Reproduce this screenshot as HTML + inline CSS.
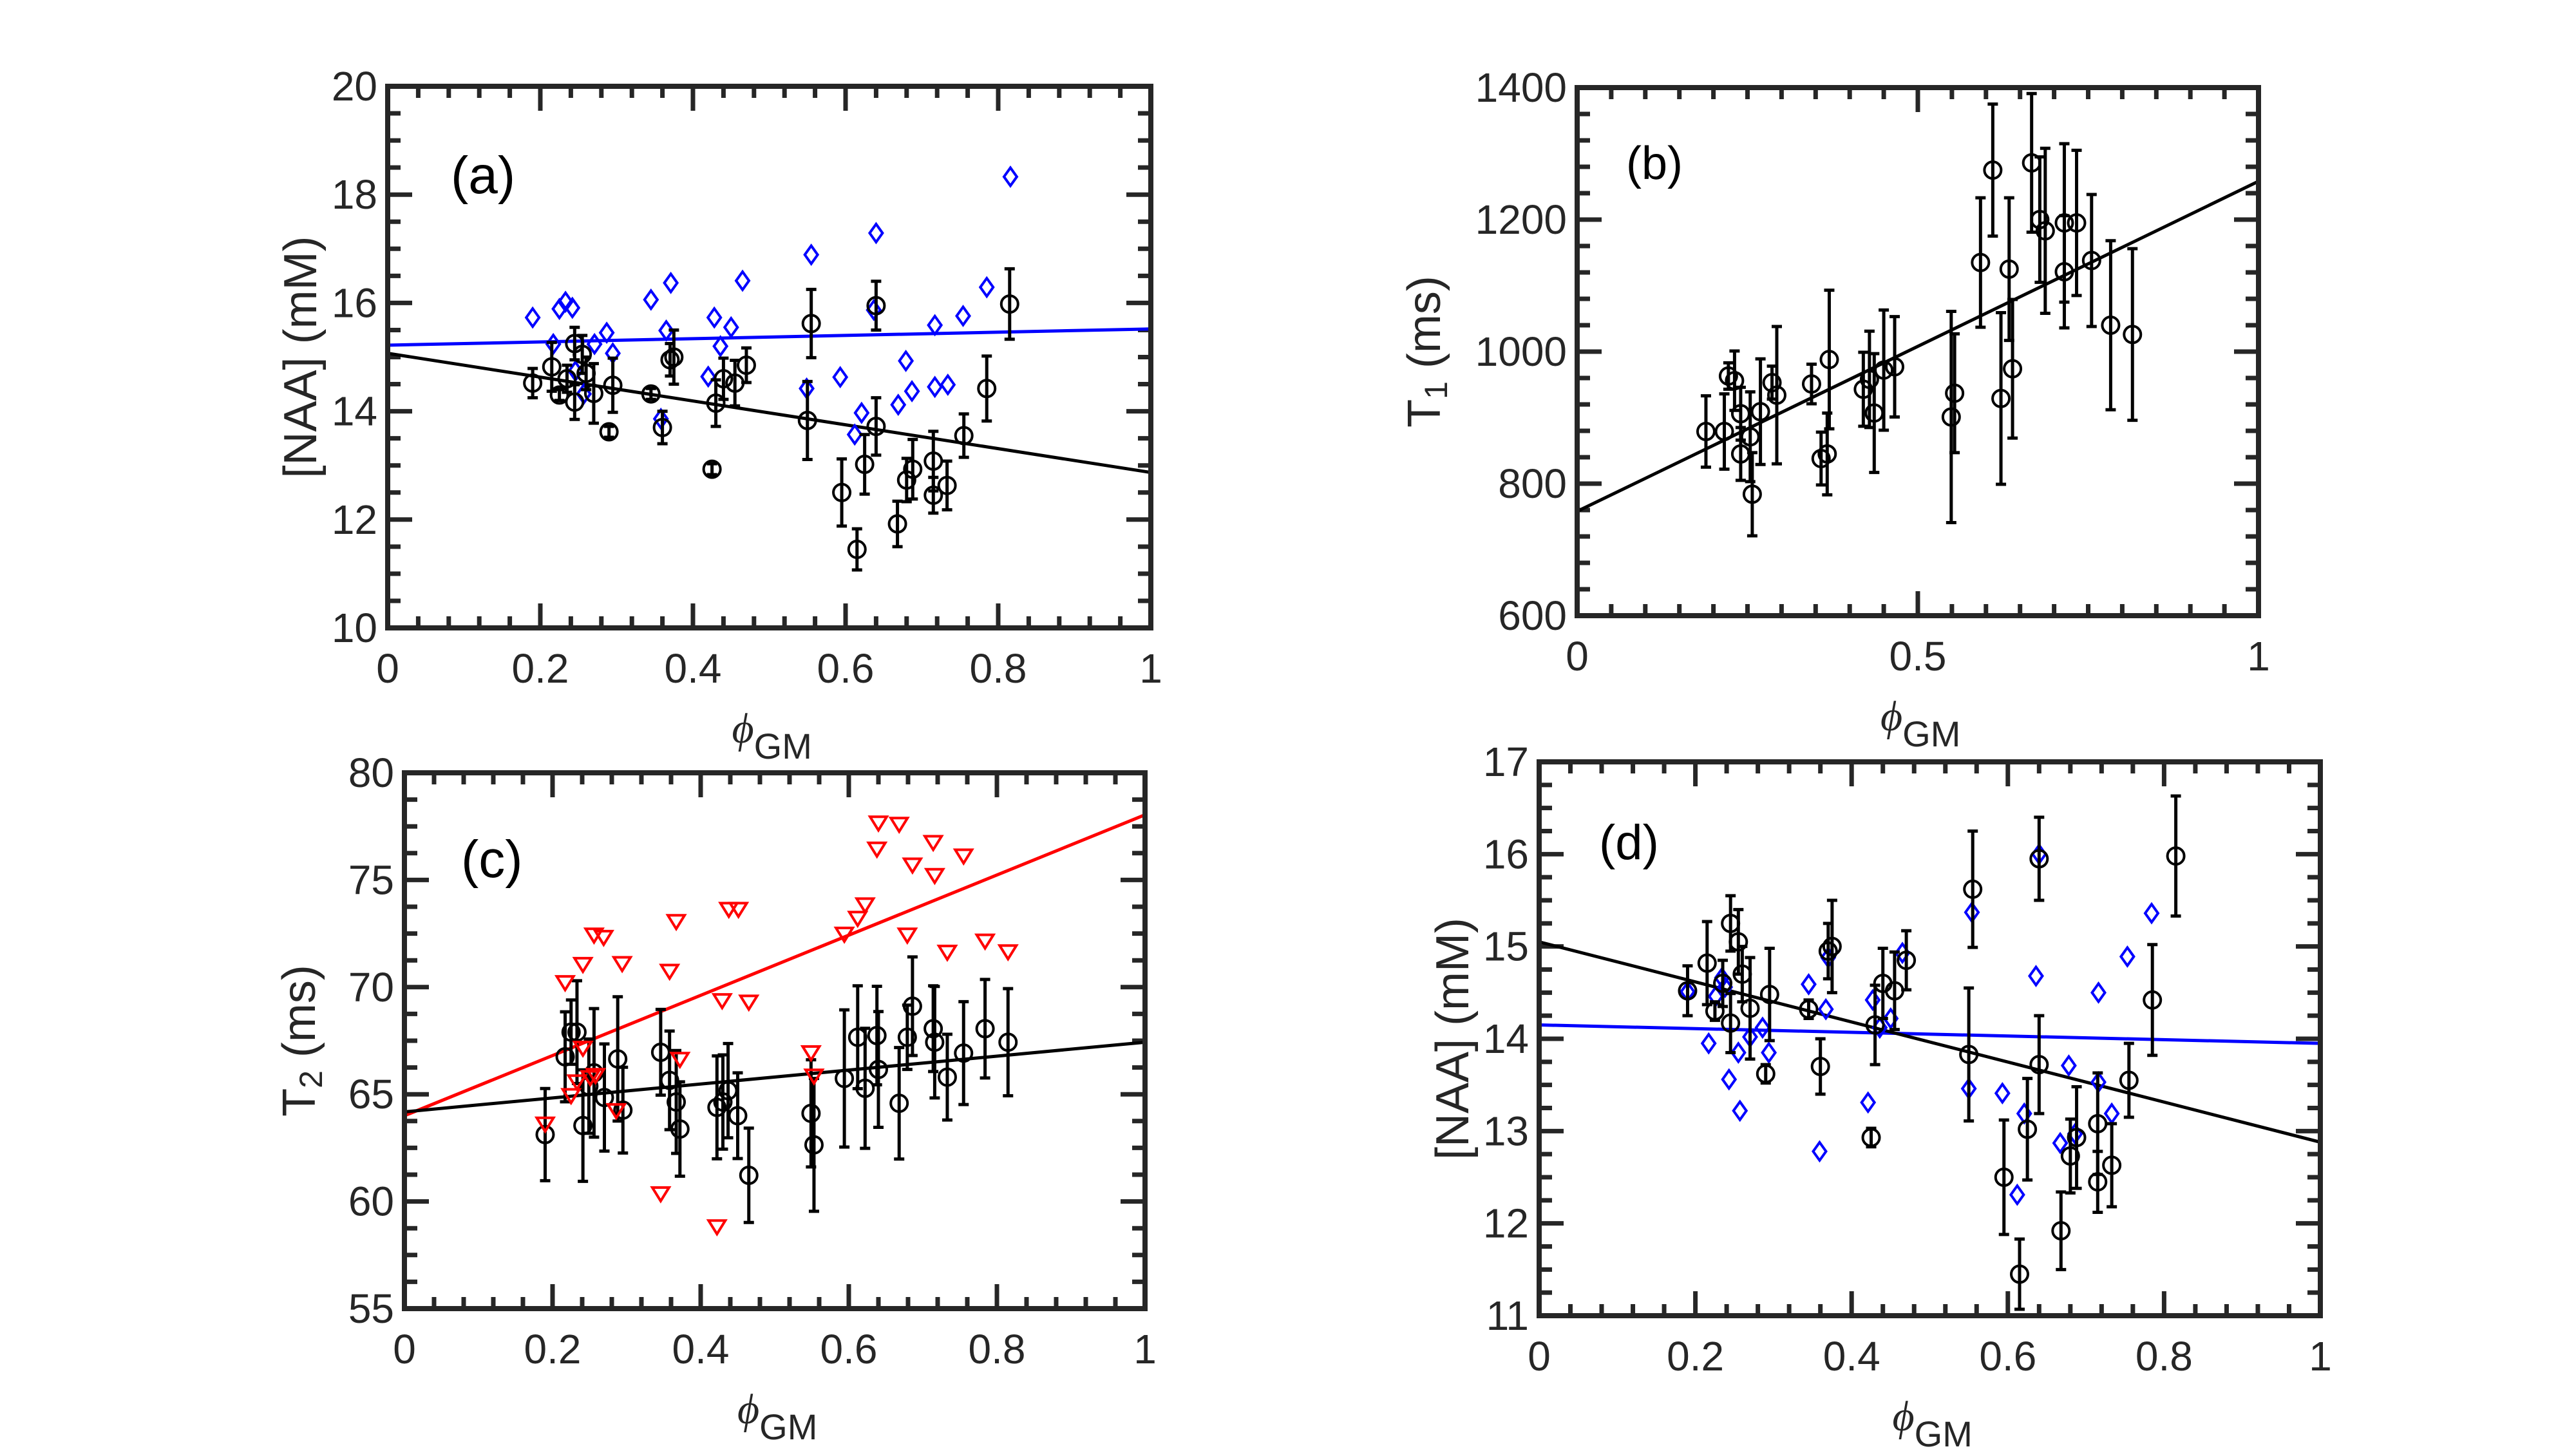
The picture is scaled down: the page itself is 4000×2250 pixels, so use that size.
<!DOCTYPE html>
<html><head><meta charset="utf-8"><style>
html,body{margin:0;padding:0;background:#fff;}
svg{display:block;}
text{font-family:"Liberation Sans",sans-serif;}
</style></head>
<body>
<svg id="fig" width="4000" height="2250" viewBox="0 0 4000 2250" xmlns="http://www.w3.org/2000/svg"></svg>
<script>
// ---- shared black data (NAA) ----
const naaX = [0.19,0.215,0.225,0.235,0.245,0.245,0.255,0.26,0.27,0.29,0.295,0.345,0.36,0.37,0.375,0.425,0.43,0.44,0.455,0.47,0.55,0.555,0.595,0.615,0.625,0.64,0.64,0.668,0.68,0.688,0.715,0.715,0.733,0.755,0.785,0.815];
const naaY = [14.52,14.82,14.3,14.6,15.25,14.17,15.05,14.7,14.33,13.62,14.48,14.32,13.7,14.95,15.0,12.93,14.15,14.6,14.52,14.85,13.83,15.62,12.5,11.45,13.02,13.72,15.95,11.92,12.73,12.93,13.08,12.45,12.63,13.55,14.42,15.98];
const naaErr = [0.27,0.45,0.1,0.25,0.3,0.32,0.35,0.3,0.55,0.1,0.5,0.1,0.3,0.3,0.5,0.1,0.43,0.38,0.42,0.32,0.72,0.63,0.62,0.38,0.55,0.53,0.45,0.42,0.4,0.55,0.55,0.33,0.45,0.4,0.6,0.65];
// ---- panel (a) blue diamonds ----
const aBlueX = [0.19,0.217,0.225,0.233,0.242,0.246,0.257,0.271,0.287,0.295,0.345,0.358,0.365,0.371,0.42,0.428,0.436,0.45,0.465,0.549,0.555,0.593,0.612,0.621,0.637,0.64,0.669,0.679,0.687,0.717,0.717,0.734,0.754,0.785,0.816];
const aBlueY = [15.73,15.24,15.89,16.02,15.91,14.74,14.32,15.24,15.45,15.07,16.06,13.86,15.49,16.37,14.64,15.73,15.2,15.55,16.41,14.42,16.89,14.63,13.57,13.97,15.87,17.29,14.12,14.93,14.37,15.59,14.45,14.49,15.76,16.29,18.33];
const aFitBlack = [15.07,12.87];
const aFitBlue = [15.22,15.52];
const aYTicks = [10,12,14,16,18,20];
const xTicks01 = [0,0.2,0.4,0.6,0.8,1];
// ---- panel (b) T1 ----
const bX = [0.189,0.216,0.222,0.231,0.24,0.24,0.254,0.257,0.269,0.286,0.293,0.344,0.358,0.367,0.37,0.42,0.429,0.436,0.45,0.466,0.549,0.554,0.592,0.61,0.622,0.634,0.639,0.667,0.679,0.687,0.715,0.715,0.733,0.755,0.783,0.815];
const bY = [879,879,963,956,906,845,871,784,909,953,934,951,838,845,988,943,958,907,972,977,901,937,1135,1275,929,1125,974,1286,1200,1183,1121,1195,1195,1138,1040,1026];
const bErr = [54,57,20,45,40,40,68,63,80,25,104,30,40,62,105,56,73,90,91,76,160,90,98,100,130,108,105,105,95,125,85,120,110,100,128,130];
const bFit = [758,1258];
const bYTicks = [600,800,1000,1200,1400];
const bXTicks = [0,0.5,1];
// ---- panel (c) T2 ----
const cX = [0.19,0.217,0.225,0.233,0.241,0.249,0.256,0.27,0.288,0.295,0.346,0.358,0.367,0.372,0.422,0.43,0.437,0.45,0.465,0.549,0.553,0.594,0.612,0.622,0.638,0.64,0.668,0.679,0.686,0.714,0.716,0.733,0.755,0.784,0.815];
const cY = [63.12,66.75,67.9,67.9,63.54,65.38,66.0,64.85,66.65,64.26,66.96,65.65,64.64,63.38,64.39,64.64,65.17,64.0,61.22,64.11,62.64,65.74,67.66,65.28,67.74,66.16,64.58,67.66,69.11,68.06,67.43,65.8,66.92,68.06,67.43];
const cErr = [2.15,2.1,1.5,2.4,2.6,2.2,3.0,2.5,2.9,2.0,2.0,2.3,2.4,2.2,2.4,2.2,2.2,2.0,2.2,2.5,3.1,3.2,2.4,2.8,2.3,2.7,2.6,1.5,2.3,2.0,2.6,2.0,2.4,2.3,2.5];
const cRedX = [0.19,0.217,0.225,0.233,0.241,0.241,0.251,0.258,0.256,0.269,0.286,0.294,0.346,0.358,0.367,0.372,0.422,0.429,0.438,0.451,0.465,0.549,0.553,0.594,0.612,0.622,0.638,0.64,0.668,0.679,0.686,0.714,0.716,0.733,0.755,0.784,0.815];
const cRedY = [63.63,70.23,64.96,65.6,71.08,67.17,65.8,65.9,72.45,72.34,64.26,71.12,60.38,70.76,73.08,66.65,58.84,69.39,73.65,73.65,69.32,66.96,65.87,72.49,73.23,73.86,76.46,77.68,77.62,72.45,75.72,76.77,75.23,71.65,76.14,72.17,71.67];
const cFitBlack = [64.18,67.43];
const cFitRed = [64.0,78.04];
const cYTicks = [55,60,65,70,75,80];
// ---- panel (d) blue diamonds ----
const dBlueX = [0.19,0.217,0.226,0.234,0.238,0.243,0.255,0.257,0.27,0.286,0.294,0.345,0.359,0.367,0.37,0.421,0.427,0.436,0.45,0.465,0.55,0.554,0.593,0.612,0.621,0.636,0.64,0.667,0.678,0.686,0.716,0.716,0.733,0.753,0.784];
const dBlueY = [14.51,13.95,14.46,14.66,14.56,13.56,13.85,13.22,14.02,14.12,13.85,14.59,12.78,14.32,14.88,13.31,14.42,14.12,14.22,14.93,13.46,15.37,13.41,12.31,13.19,14.68,16.0,12.87,13.71,12.97,14.5,13.53,13.19,14.89,15.36];
const dFitBlack = [15.05,12.88];
const dFitBlue = [14.15,13.95];
const dYTicks = [11,12,13,14,15,16,17];

const svg = document.getElementById('fig');
const NS = 'http://www.w3.org/2000/svg';
function mk(tag, attrs, parent){const e=document.createElementNS(NS,tag);for(const k in attrs)e.setAttribute(k,attrs[k]);(parent||svg).appendChild(e);return e;}

function panel(p){
  const g = mk('g',{});
  
  
  const sx = v => p.L + (v - p.x0)/(p.x1 - p.x0)*(p.R - p.L);
  const sy = v => p.B - (v - p.y0)/(p.y1 - p.y0)*(p.B - p.T);
  p.sx = sx; p.sy = sy;
  const tg = mk('g',{stroke:'#262626','stroke-width':7},g);
  
  
  for(let v=p.x0; v<=p.x1+1e-9; v+=p.xMinor){
    const isMaj = p.xTicks.some(t=>Math.abs(t-v)<1e-6);
    const len = isMaj?38:18, x=sx(v);
    mk('line',{x1:x,y1:p.B,x2:x,y2:p.B-len},tg);
    mk('line',{x1:x,y1:p.T,x2:x,y2:p.T+len},tg);
  }
  for(let v=p.y0; v<=p.y1+1e-9; v+=p.yMinor){
    const isMaj = p.yTicks.some(t=>Math.abs(t-v)<1e-6);
    const len = isMaj?38:20, y=sy(v);
    mk('line',{x1:p.L,y1:y,x2:p.L+len,y2:y},tg);
    mk('line',{x1:p.R,y1:y,x2:p.R-len,y2:y},tg);
  }
  p.xTicks.forEach(t=>{
    const e=mk('text',{x:sx(t),y:p.B+85,'text-anchor':'middle','font-size':64,fill:'#262626'},g);
    
    
    e.textContent = String(t);
  });
  p.yTicks.forEach(t=>{
    const e=mk('text',{x:p.L-16,y:sy(t)+22,'text-anchor':'end','font-size':64,fill:'#262626'},g);
    
    
    e.textContent = String(t);
  });
  p.fits.forEach(f=>{
    const l=mk('line',{x1:sx(p.x0),y1:sy(f.v[0]),x2:sx(p.x1),y2:sy(f.v[1]),stroke:f.c,'stroke-width':5},g);
    
    
  });
  const fr=mk('rect',{x:p.L,y:p.T,width:p.R-p.L,height:p.B-p.T,fill:'none',stroke:'#262626','stroke-width':8},g);
  
  
  const yt=mk('text',{x:p.ytX,y:(p.T+p.B)/2,'text-anchor':'middle','dominant-baseline':'central','font-size':72,fill:'#262626',transform:`rotate(-90 ${p.ytX} ${(p.T+p.B)/2})`},g);
  
  
  if(p.ySub){
    yt.appendChild(document.createTextNode('T'));
    const s=mk('tspan',{'font-size':50,dy:18},yt); s.textContent=p.ySub;
    const s2=mk('tspan',{'font-size':72,dy:-18},yt); s2.textContent=' (ms)';
  } else yt.textContent='[NAA] (mM)';
  const cx=(p.L+p.R)/2;
  const xt=mk('text',{x:cx-58,y:p.B+178,'font-size':66,fill:'#262626'},g);
  
  
  const ph=mk('tspan',{'font-family':'Liberation Serif, DejaVu Serif, serif','font-style':'italic'},xt); ph.textContent='ϕ';
  const gm=mk('tspan',{'font-size':56,dy:25},xt); gm.textContent='GM';
  const pl=mk('text',{x:p.lx,y:p.ly,'font-size':p.lfs,fill:'#000'},g);
  
  
  pl.textContent='('+p.id+')';
  return g;
}

function errCircles(p,xs,ys,es,g){
  xs.forEach((x,i)=>{
    const X=p.sx(x), Y=p.sy(ys[i]);
    if(es){
      const t=p.sy(ys[i]+es[i]), b=p.sy(ys[i]-es[i]);
      const eb=mk('path',{d:`M${X},${t}V${b}M${X-8},${t}H${X+8}M${X-8},${b}H${X+8}`,stroke:'#000','stroke-width':5,fill:'none'},g);
      
      
    }
    const c=mk('circle',{cx:X,cy:Y,r:13,fill:'none',stroke:'#000','stroke-width':4},g);
    
    
  });
}
function diamonds(p,xs,ys,g){
  xs.forEach((x,i)=>{
    const X=p.sx(x), Y=p.sy(ys[i]);
    const d=mk('path',{d:`M${X},${Y-14}L${X+10},${Y}L${X},${Y+14}L${X-10},${Y}Z`,fill:'none',stroke:'#0000ff','stroke-width':4},g);
    
    
  });
}
function triangles(p,xs,ys,g){
  xs.forEach((x,i)=>{
    const X=p.sx(x), Y=p.sy(ys[i]);
    const d=mk('path',{d:`M${X-13},${Y-9}L${X+13},${Y-9}L${X},${Y+12}Z`,fill:'none',stroke:'#ff0000','stroke-width':4},g);
    
    
  });
}

const pa={id:'a',L:602,R:1787,T:134,B:975,x0:0,x1:1,y0:10,y1:20,xMinor:0.04,yMinor:0.5,xTicks:xTicks01,yTicks:aYTicks,ytX:467,lx:700,ly:300,lfs:82,
  fits:[{v:aFitBlue,c:'#0000ff',name:'fit-line-blue'},{v:aFitBlack,c:'#000',name:'fit-line-black'}]};
const ga=panel(pa); diamonds(pa,aBlueX,aBlueY,ga); errCircles(pa,naaX,naaY,naaErr,ga);

const pb={id:'b',L:2449,R:3507,T:136,B:956,x0:0,x1:1,y0:600,y1:1400,xMinor:0.05,yMinor:40,xTicks:bXTicks,yTicks:bYTicks,ytX:2212,ySub:'1',lx:2525,ly:278,lfs:72,
  fits:[{v:bFit,c:'#000',name:'fit-line-black'}]};
const gb=panel(pb); errCircles(pb,bX,bY,bErr,gb);

const pc={id:'c',L:628,R:1778,T:1200,B:2032,x0:0,x1:1,y0:55,y1:80,xMinor:0.04,yMinor:1.25,xTicks:xTicks01,yTicks:cYTicks,ytX:465,ySub:'2',lx:716,ly:1362,lfs:82,
  fits:[{v:cFitRed,c:'#ff0000',name:'fit-line-red'},{v:cFitBlack,c:'#000',name:'fit-line-black'}]};
const gc=panel(pc); errCircles(pc,cX,cY,cErr,gc); triangles(pc,cRedX,cRedY,gc);

const pd={id:'d',L:2390,R:3603,T:1183,B:2043,x0:0,x1:1,y0:11,y1:17,xMinor:0.04,yMinor:0.25,xTicks:xTicks01,yTicks:dYTicks,ytX:2256,lx:2483,ly:1334,lfs:76,
  fits:[{v:dFitBlue,c:'#0000ff',name:'fit-line-blue'},{v:dFitBlack,c:'#000',name:'fit-line-black'}]};
const gd=panel(pd); diamonds(pd,dBlueX,dBlueY,gd); errCircles(pd,naaX,naaY,naaErr,gd);
</script>
</body></html>
